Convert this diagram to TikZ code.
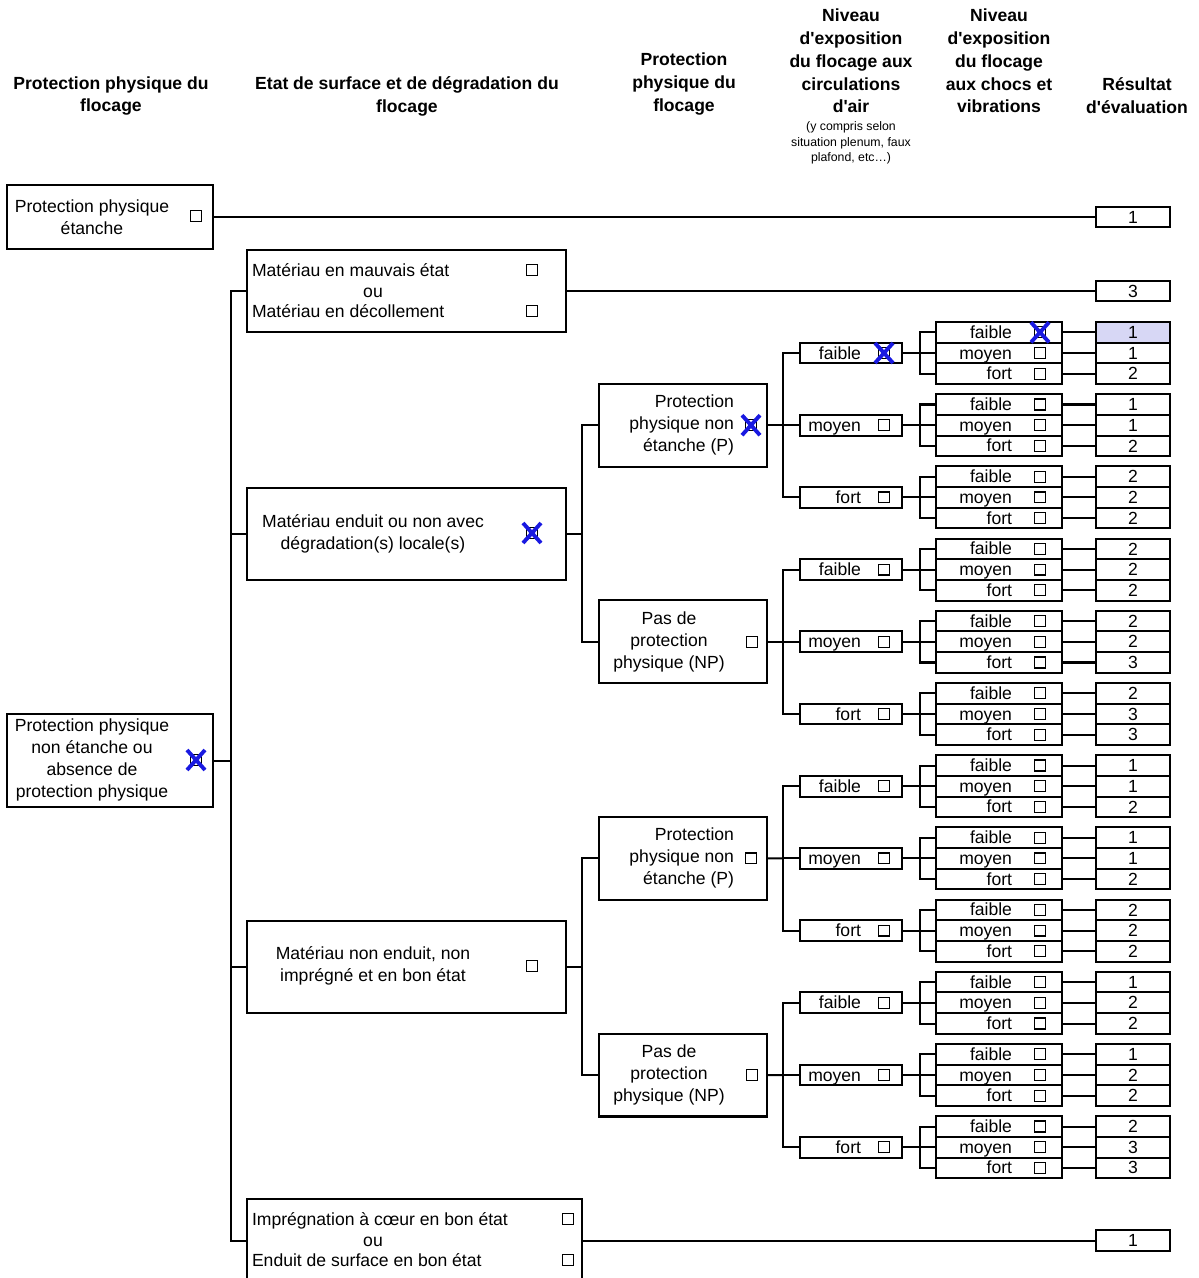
\documentclass[tikz,border=0pt]{standalone}
\usepackage{fontspec}
\setmainfont{Liberation Sans}
\definecolor{bleucoche}{RGB}{25,25,225}
\definecolor{surligne}{RGB}{215,215,245}
\newcommand\niv[1]{\ifcase#1 faible\or moyen\or fort\fi}
\newcommand\coche[1]{\draw[bleucoche,line width=2.2pt] ([shift={(-9,-10)}]#1.center) -- ([shift={(9,10)}]#1.center) ([shift={(-9,10)}]#1.center) -- ([shift={(9,-10)}]#1.center);}

\begin{document}
\begin{tikzpicture}[x=0.02cm,y=-0.02cm,line width=1.15pt,
    titre/.style={align=center,font=\bfseries\fontsize{10}{13}\selectfont},
    petit/.style={align=center,font=\fontsize{7}{8.8}\selectfont},
    txt/.style={align=center,inner sep=0pt,font=\fontsize{10}{12.5}\selectfont},
    boite/.style={draw,inner sep=0pt},
    chk/.style={draw,line width=0.7pt,minimum size=6.2pt,inner sep=0pt},
    ligne/.style={boite,minimum width=2.52cm,minimum height=0.414cm},
    niv4/.style={boite,minimum width=2.04cm,minimum height=0.414cm},
    res/.style={boite,minimum width=1.48cm,minimum height=0.414cm,font=\fontsize{10}{12}\selectfont},
    res0-0/.style={fill=surligne}]
  \useasboundingbox (0,0) rectangle (1198,1278);
  % en-tetes
  \node[titre] (h1) at (111,96) {Protection physique du\\flocage};
  \node[titre] (h2) at (407,96) {Etat de surface et de dégradation du\\flocage};
  \node[titre] (h3) at (684,84) {Protection\\physique du\\flocage};
  \node[titre] (h4) at (851,61) {Niveau\\d\textquotesingle exposition\\du flocage aux\\circulations\\d\textquotesingle air};
  \node[petit] (h4b) at (851,143) {(y compris selon\\situation plenum, faux\\plafond, etc…)};
  \node[titre] (h5) at (999,61) {Niveau\\d\textquotesingle exposition\\du flocage\\aux chocs et\\vibrations};
  \node[titre] (h6) at (1137,96) {Résultat\\d\textquotesingle évaluation};
  % protection physique
  \node[boite,minimum width=4.12cm,minimum height=1.28cm] (a1) at (110,217) {};
  \node[txt] at (92,217) {Protection physique\\étanche};
  \node[chk] (c-a1) at (196,216) {};
  \node[boite,minimum width=4.12cm,minimum height=1.86cm] (a2) at (110,760.5) {};
  \node[txt] at (92,760) {Protection physique\\non étanche ou\\absence de\\protection physique};
  \node[chk] (c-a2) at (196,760) {};
  % etat de surface
  \node[boite,minimum width=6.38cm,minimum height=1.64cm] (b1) at (406.5,291) {};
  \node[txt,anchor=base west] at (251,276) {Matériau en mauvais état};
  \node[txt,anchor=base] at (373,297) {ou};
  \node[txt,anchor=base west] at (251,317) {Matériau en décollement};
  \node[chk] (c-b1a) at (532,270) {};
  \node[chk] (c-b1b) at (532,311) {};
  \node[boite,minimum width=6.38cm,minimum height=1.84cm] (b2) at (406.5,534) {};
  \node[txt] at (373,534) {Matériau enduit ou non avec\\dégradation(s) locale(s)};
  \node[chk] (c-b2) at (532,533) {};
  \node[boite,minimum width=6.38cm,minimum height=1.84cm] (b3) at (406.5,967) {};
  \node[txt] at (373,966) {Matériau non enduit, non\\imprégné et en bon état};
  \node[chk] (c-b3) at (532,966) {};
  \node[boite,minimum width=6.7cm,minimum height=1.66cm] (b4) at (414.5,1240.5) {};
  \node[txt,anchor=base west] at (251,1225) {Imprégnation à cœur en bon état};
  \node[txt,anchor=base] at (373,1246) {ou};
  \node[txt,anchor=base west] at (251,1266) {Enduit de surface en bon état};
  \node[chk] (c-b4a) at (568,1219) {};
  \node[chk] (c-b4b) at (568,1260) {};
  % protection (P) / (NP)
  \node[boite,minimum width=3.36cm,minimum height=1.66cm] (p0) at (683,425.2) {};
  \node[txt,align=right,anchor=east] at (735,425.2) {Protection\\physique non\\étanche (P)};
  \node[chk] (c-p0) at (751,425.2) {};
  \node[boite,minimum width=3.36cm,minimum height=1.66cm] (p1) at (683,641.8) {};
  \node[txt] at (669,641.8) {Pas de\\protection\\physique (NP)};
  \node[chk] (c-p1) at (752,641.8) {};
  \node[boite,minimum width=3.36cm,minimum height=1.66cm] (p2) at (683,858.4) {};
  \node[txt,align=right,anchor=east] at (735,858.4) {Protection\\physique non\\étanche (P)};
  \node[chk] (c-p2) at (751,858.4) {};
  \node[boite,minimum width=3.36cm,minimum height=1.66cm] (p3) at (683,1075) {};
  \node[txt] at (669,1075) {Pas de\\protection\\physique (NP)};
  \node[chk] (c-p3) at (752,1075) {};
  % resultats directs
  \node[res] (s-a1) at (1133,217) {1};
  \node[res] (s-b1) at (1133,291) {3};
  \node[res] (s-b4) at (1133,1240.5) {1};
  \draw (a1.east) -- (s-a1.west);
  \draw (b1.east) -- (s-b1.west);
  \draw (b4.east) -- (s-b4.west);
  % liaisons
  \coordinate (ja) at (231,760.5);
  \draw (a2.east) -- (ja);
  \foreach \b in {b1,b2,b3,b4} \draw (ja) |- (\b.west);
  \coordinate (jb2) at (582,534);
  \coordinate (jb3) at (582,967);
  \draw (b2.east) -- (jb2) (jb2) |- (p0.west) (jb2) |- (p1.west);
  \draw (b3.east) -- (jb3) (jb3) |- (p2.west) (jb3) |- (p3.west);
  \foreach \i in {0,...,3}{
    \coordinate (jp\i) at (783,{353+72.2*(3*\i+1)});
    \draw (p\i.east) -- (jp\i);
  }
  % circulations d'air, chocs et resultats
  \foreach \a/\b/\c [count=\k from 0] in {1/1/2,1/1/2,2/2/2,2/2/2,2/2/3,2/3/3,1/1/2,1/1/2,2/2/2,1/2/2,1/2/2,2/3/3}{
    \pgfmathsetmacro\g{353+72.2*\k}
    \pgfmathtruncatemacro\m{mod(\k,3)}
    \pgfmathtruncatemacro\p{\k/3}
    \node[niv4] (l\k) at (851,\g) {};
    \node[txt,anchor=base east] at (862,{\g+6}) {\niv{\m}};
    \node[chk] (c-l\k) at (884,\g) {};
    \coordinate (jl\k) at (920,\g);
    \draw (jp\p) |- (l\k.west) (l\k.east) -- (jl\k);
    \foreach \v [count=\j from 0] in {\a,\b,\c}{
      \pgfmathsetmacro\h{\g+20.7*(\j-1)}
      \node[ligne] (r\k-\j) at (999,\h) {};
      \node[txt,anchor=base east] at (1013,{\h+6}) {\niv{\j}};
      \node[chk] (c-r\k-\j) at (1040,\h) {};
      \node[res,res\k-\j/.try] (s\k-\j) at (1133,\h) {\v};
      \draw (jl\k) |- (r\k-\j.west) (r\k-\j.east) -- (s\k-\j.west);
    }
  }
  % cases cochees
  \coche{c-a2}
  \coche{c-b2}
  \coche{c-p0}
  \coche{c-l0}
  \coche{c-r0-0}
\end{tikzpicture}
\end{document}
